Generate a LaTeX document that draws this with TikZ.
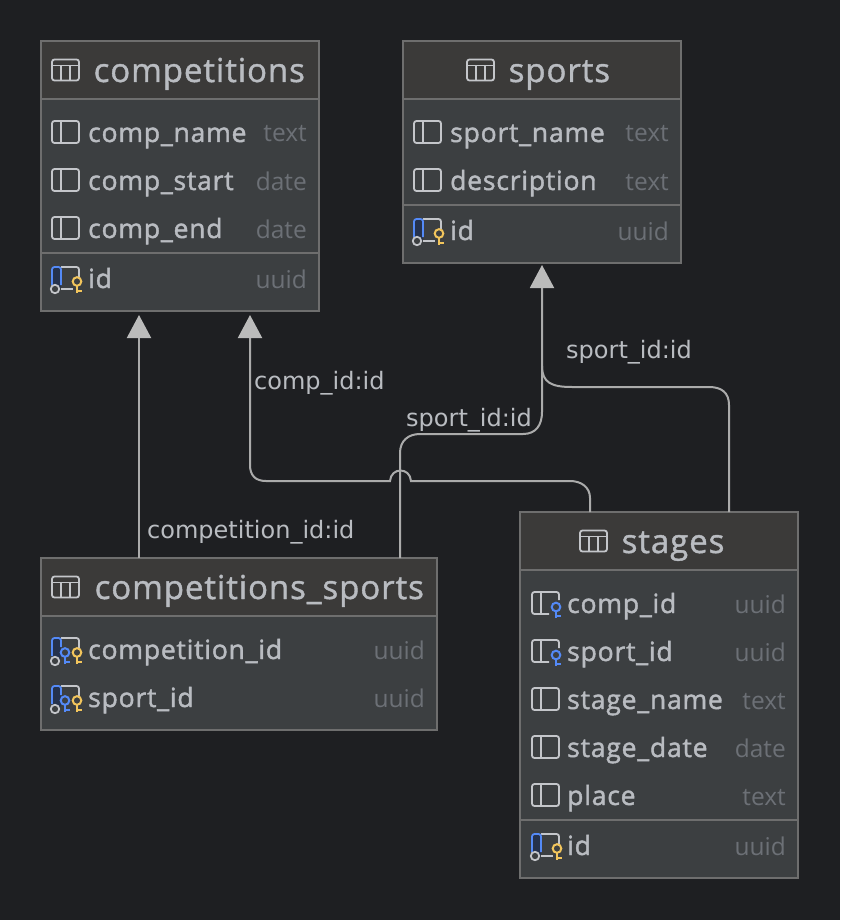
\documentclass[tikz,border=0pt]{standalone}
\usepackage{fontspec}
\usetikzlibrary{arrows.meta,calc}
\newfontfamily\uititle[FakeBold=1.2,LetterSpace=2.8]{Open Sans}
\newfontfamily\uifont[FakeBold=1.6,LetterSpace=3]{Open Sans}
\newfontfamily\uilight{Open Sans}
\newfontfamily\linkfont{DejaVu Sans}
\definecolor{bgc}{HTML}{1E1F22}
\definecolor{headc}{HTML}{3B3A39}
\definecolor{bodyc}{HTML}{3C3F41}
\definecolor{edgec}{HTML}{6E6E6E}
\definecolor{txtc}{HTML}{B9BCC1}
\definecolor{typec}{HTML}{6C7076}
\definecolor{connc}{HTML}{ABABAB}
\definecolor{tipc}{HTML}{BBBBBB}
\definecolor{icoc}{HTML}{C4C6CA}
\definecolor{bluec}{HTML}{548AF7}
\definecolor{navyc}{HTML}{25324D}
\definecolor{goldc}{HTML}{F2C55C}
\tikzset{
  tablebox/.style={draw=edgec,line width=1.4pt,fill=bodyc,inner sep=0pt,outer sep=0pt},
  headbox/.style={fill=headc,inner sep=0pt,outer sep=0pt},
  titletext/.style={text=txtc,inner sep=0pt,anchor=base west,font=\uititle\fontsize{33}{38}\selectfont},
  rowtext/.style={text=txtc,inner sep=0pt,anchor=base west,font=\uifont\fontsize{26.5}{30}\selectfont},
  typetext/.style={text=typec,inner sep=0pt,anchor=base east,font=\uilight\fontsize{24.5}{30}\selectfont},
  linktext/.style={text=txtc,inner sep=0pt,anchor=base west,font=\linkfont\fontsize{24}{28}\selectfont},
  sepline/.style={draw=edgec,line width=1.8pt},
  ico/.style={draw=icoc,line width=1.8pt},
  conn/.style={draw=connc,line width=2pt},
  connarrow/.style={conn,-{Triangle[width=24pt,length=23pt,fill=tipc,color=tipc]}},
}
\newcommand\tbl[6]{% name x1 y1 x2 y2 headerbottom
  \node[tablebox,minimum width=#4pt-#2pt,minimum height=#5pt-#3pt] (#1) at ({(#2+#4)/2},{(#3+#5)/2}) {};
  \node[headbox,minimum width=#4pt-#2pt-1.4pt,minimum height=#6pt-#3pt-0.7pt] (#1-head) at ({(#2+#4)/2},{(#3+#6)/2+0.35}) {};
  \draw[sepline] (#2+0.7,#6) -- (#4-0.7,#6);
}
\newcommand\icoTable[2]{\begin{scope}[shift={(#1,#2)}]
  \draw[ico,rounded corners=2.5pt] (0,-10.5) rectangle (27,10.5);
  \draw[ico] (0,-4.5) -- (27,-4.5) (9,-4.5) -- (9,10.5) (18,-4.5) -- (18,10.5);
\end{scope}}
\newcommand\icoCol[2]{\begin{scope}[shift={(#1,#2)}]
  \draw[ico,rounded corners=2.5pt] (0,-11) rectangle (27,11);
  \draw[ico] (9,-11) -- (9,11);
\end{scope}}
\newcommand\keyg[4]{% colour x y stemlength
  \draw[draw=#1,line width=2pt,fill=bodyc] (#2,#3) circle (4.3);
  \draw[draw=#1,line width=2pt] (#2,#3+4.3) -- (#2,#3+#4) (#2,#3+#4-2) -- (#2+5,#3+#4-2);
}
\newcommand\icoPK[2]{\begin{scope}[shift={(#1,#2)}]
  \fill[navyc,rounded corners=2.5pt] (0,-12) -- (9,-12) -- (9,10) -- (0,10) -- cycle;
  \draw[ico,rounded corners=2.5pt] (9,-12) -- (27,-12) -- (27,-2);
  \draw[ico] (9,10) -- (21,10);
  \draw[draw=bluec,line width=1.8pt,rounded corners=2.5pt] (0,6) -- (0,-12) -- (9,-12) -- (9,6);
  \draw[ico,fill=bodyc] (3,10) circle (4.2);
  \keyg{goldc}{25}{2.5}{11}
\end{scope}}
\newcommand\icoFKPK[2]{\begin{scope}[shift={(#1,#2)}]
  \fill[navyc,rounded corners=2.5pt] (0,-12) -- (9,-12) -- (9,10) -- (0,10) -- cycle;
  \draw[ico,rounded corners=2.5pt] (9,-12) -- (27,-12) -- (27,-2);
  \draw[draw=bluec,line width=1.8pt,rounded corners=2.5pt] (0,6) -- (0,-12) -- (9,-12) -- (9,-3);
  \draw[ico,fill=bodyc] (3,11) circle (4.2);
  \keyg{bluec}{13}{2.5}{11}
  \keyg{goldc}{25}{2.5}{11}
\end{scope}}
\newcommand\icoFK[2]{\begin{scope}[shift={(#1,#2)}]
  \draw[ico,rounded corners=2.5pt] (17,10) -- (0,10) -- (0,-12) -- (27,-12) -- (27,-4);
  \draw[ico] (9,-12) -- (9,10);
  \keyg{bluec}{24}{3}{11}
\end{scope}}
\newcommand\rowfield[6]{% node-id text type xleft xright y
  \node[rowtext] (#1-n) at (#4,#6+9) {#2};
  \node[typetext] (#1-t) at (#5,#6+9) {#3};
}
\begin{document}
\begin{tikzpicture}[x=1pt,y=-1pt]
\path[fill=bgc,use as bounding box] (0,0) rectangle (840,920);

% competitions
\tbl{comp}{41}{41}{319}{311}{99}
\icoTable{52}{70}
\node[titletext] (comp-title) at (93.5,82) {competitions};
\icoCol{52}{132}\rowfield{c1}{comp\_name}{text}{88}{307}{133}
\icoCol{52}{180}\rowfield{c2}{comp\_start}{date}{88}{307}{181}
\icoCol{52}{228}\rowfield{c3}{comp\_end}{date}{88}{307}{229}
\draw[sepline] (41.7,253) -- (318.3,253);
\icoPK{52}{279}\rowfield{c4}{id}{uuid}{88}{307}{279}

% sports
\tbl{sports}{403}{41}{681}{263}{99}
\icoTable{467}{70}
\node[titletext] (sports-title) at (508.5,82) {sports};
\icoCol{414}{132}\rowfield{s1}{sport\_name}{text}{450}{669}{133}
\icoCol{414}{180}\rowfield{s2}{description}{text}{450}{669}{181}
\draw[sepline] (403.7,205) -- (680.3,205);
\icoPK{414}{231}\rowfield{s3}{id}{uuid}{450}{669}{231}

% competitions_sports
\tbl{cs}{41}{558}{437}{730}{616}
\icoTable{52}{587}
\node[titletext] (cs-title) at (94.5,599) {competitions\_sports};
\icoFKPK{52}{650}\rowfield{m1}{competition\_id}{uuid}{88}{425}{650}
\icoFKPK{52}{698}\rowfield{m2}{sport\_id}{uuid}{88}{425}{698}

% stages
\tbl{stages}{520}{512}{798}{878}{570}
\icoTable{580}{541}
\node[titletext] (stages-title) at (621.5,553) {stages};
\icoFK{532}{604}\rowfield{g1}{comp\_id}{uuid}{567}{786}{604}
\icoFK{532}{652}\rowfield{g2}{sport\_id}{uuid}{567}{786}{652}
\icoCol{532}{699}\rowfield{g3}{stage\_name}{text}{567}{786}{700}
\icoCol{532}{747}\rowfield{g4}{stage\_date}{date}{567}{786}{748}
\icoCol{532}{795}\rowfield{g5}{place}{text}{567}{786}{796}
\draw[sepline] (520.7,820) -- (797.3,820);
\icoPK{532}{846}\rowfield{g6}{id}{uuid}{567}{786}{846}

% connector ends
\coordinate (compA) at ($(comp.south west)+(98,4)$);
\coordinate (compB) at ($(comp.south west)+(209,4)$);
\coordinate (sportsA) at ($(sports.south west)+(139,2)$);
\coordinate (csA) at ($(cs.north west)+(98,0)$);
\coordinate (csB) at ($(cs.north west)+(359,0)$);
\coordinate (stA) at ($(stages.north west)+(70,0)$);
\coordinate (stB) at ($(stages.north west)+(209,0)$);
\coordinate (joinS) at (542,366);

% connectors
\draw[connarrow] (csA) -- (compA);
\draw[connarrow] (stA) -- (590,498) .. controls (590,487) and (581,481) .. (570,481) -- (411,481)
  .. controls (410,467) and (391,467) .. (390,481) -- (266,481)
  .. controls (255,481) and (250,475) .. (250,465) -- (compB);
\draw[connarrow] (csB) -- (400,453) .. controls (400,441) and (408,434) .. (420,434) -- (523,434)
  .. controls (536,434) and (542,425) .. (542,412) -- (sportsA);
\draw[conn] (stB) -- (729,405) .. controls (729,393) and (722,387) .. (709,387) -- (572,387)
  .. controls (552,387) and (542,383) .. (joinS);

% labels
\node[linktext] (l1) at (147,538) {competition\_id:id};
\node[linktext] (l2) at (254,389) {comp\_id:id};
\node[linktext] (l3) at (406,426) {sport\_id:id};
\node[linktext] (l4) at (566,358) {sport\_id:id};
\end{tikzpicture}
\end{document}
